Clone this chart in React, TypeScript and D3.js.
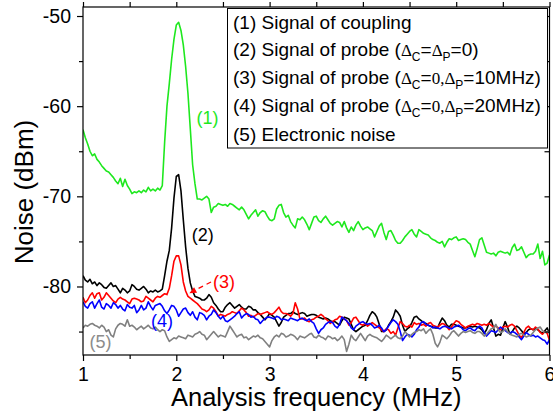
// noise spectra of coupling / probe beams, redrawn with d3
import React, { useRef, useEffect } from 'react';
import * as d3 from 'd3';

// frequency grid: 1 MHz to 6 MHz, one point every 0.025 MHz (201 points)
const fStart = 1;
const fStep = 0.025;

// (1) signal of coupling
const coupling = [
  -62.6, -63.5, -64.2, -65.0, -65.5, -65.3, -65.9, -66.2, -66.6, -66.9,
  -67.2, -67.3, -67.6, -67.9, -68.3, -68.6, -68.0, -68.9, -68.1, -68.8,
  -69.2, -69.7, -69.5, -69.6, -69.4, -69.6, -69.3, -69.5, -69.0, -69.4,
  -69.2, -69.4, -69.1, -69.3, -68.8, -64.0, -60.0, -57.5, -54.8, -52.6,
  -51.0, -50.7, -51.6, -53.2, -55.6, -58.6, -62.5, -66.5, -68.6, -70.3,
  -70.3, -70.4, -70.2, -70.0, -70.3, -71.8, -71.2, -71.1, -70.8, -70.9,
  -71.0, -70.9, -71.1, -70.8, -70.9, -71.1, -71.3, -71.5, -71.2, -71.5,
  -72.0, -72.5, -72.1, -71.8, -71.5, -72.2, -71.8, -71.6, -71.7, -72.2,
  -72.6, -72.7, -72.5, -71.4, -71.0, -70.9, -71.8, -72.3, -72.1, -72.8,
  -73.2, -73.5, -72.5, -72.6, -72.3, -72.6, -73.1, -73.7, -73.0, -72.3,
  -72.2, -72.7, -72.9, -72.5, -72.2, -72.6, -73.0, -73.2, -73.0, -72.8,
  -72.9, -73.4, -72.8, -73.5, -74.0, -73.4, -73.8, -73.2, -72.8, -73.3,
  -73.7, -73.5, -73.4, -73.6, -73.8, -74.5, -73.9, -73.3, -73.0, -74.0,
  -74.8, -73.9, -73.8, -74.3, -74.9, -75.2, -75.2, -74.9, -74.5, -74.2,
  -73.9, -73.7, -74.2, -74.5, -73.7, -73.9, -74.1, -74.2, -74.3, -74.6,
  -74.8, -74.9, -75.1, -75.2, -75.0, -75.6, -75.1, -74.7, -74.8, -74.6,
  -74.5, -74.9, -74.8, -74.7, -74.8, -75.1, -75.3, -76.0, -76.7, -75.8,
  -74.8, -74.6, -75.4, -76.2, -76.3, -76.4, -76.3, -76.6, -76.2, -76.1,
  -76.2, -76.3, -76.2, -76.5, -75.7, -75.3, -76.0, -75.9, -75.6, -76.2,
  -76.8, -76.5, -76.4, -76.4, -76.1, -75.3, -76.9, -76.1, -77.6, -77.4,
  -76.5,
];

// (2) probe, both detunings zero
const probeZero = [
  -78.8, -79.3, -79.5, -79.2, -79.7, -79.5, -79.9, -79.6, -79.8, -80.1,
  -80.2, -79.9, -79.6, -80.0, -79.9, -80.3, -80.7, -80.2, -80.4, -80.7,
  -80.5, -79.8, -80.0, -80.3, -80.4, -80.2, -80.0, -80.3, -80.7, -80.5,
  -80.6, -80.4, -80.6, -80.5, -80.3, -78.8, -77.2, -76.0, -73.5, -70.2,
  -67.8, -67.6, -69.4, -72.6, -75.6, -78.0, -79.6, -80.5, -81.1, -81.2,
  -81.3, -81.5, -81.5, -81.3, -80.9, -81.2, -81.8, -82.1, -82.5, -82.8,
  -82.8, -82.3, -82.0, -81.8, -82.1, -82.4, -82.2, -82.0, -82.3, -82.5,
  -82.5, -82.2, -82.3, -82.6, -82.6, -82.9, -83.1, -83.4, -83.7, -83.4,
  -83.0, -83.2, -83.4, -83.9, -84.4, -84.0, -83.4, -83.2, -83.0, -83.0,
  -82.8, -83.0, -83.1, -83.0, -82.9, -83.0, -83.3, -83.2, -83.1, -83.1,
  -83.2, -83.4, -83.5, -83.6, -83.5, -83.6, -83.8, -83.9, -83.9, -84.1,
  -84.3, -83.8, -83.4, -83.5, -83.6, -84.2, -84.8, -85.0, -84.8, -84.6,
  -84.4, -84.3, -83.8, -83.2, -82.8, -83.0, -83.4, -84.2, -85.0, -85.0,
  -84.8, -84.3, -83.9, -83.4, -82.6, -82.9, -83.3, -84.3, -85.0, -84.7,
  -84.5, -84.0, -83.4, -83.3, -83.6, -83.8, -84.0, -84.1, -84.3, -84.4,
  -84.5, -84.6, -84.6, -84.0, -83.5, -83.8, -84.3, -84.5, -84.2, -84.2,
  -84.3, -84.4, -84.5, -84.6, -84.6, -84.5, -84.4, -84.5, -84.4, -84.5,
  -84.6, -84.8, -85.2, -84.8, -84.1, -83.7, -84.6, -85.5, -85.3, -85.4,
  -84.6, -83.9, -84.5, -85.3, -85.0, -84.6, -84.4, -84.6, -84.9, -85.2,
  -85.1, -84.8, -84.7, -84.8, -84.7, -84.8, -85.0, -85.2, -84.9, -84.6,
  -85.2,
];

// (3) probe, delta_P = 10 MHz
const probe10 = [
  -81.2, -81.8, -81.5, -81.0, -80.7, -81.3, -80.8, -80.7, -81.5, -81.2,
  -80.7, -81.0, -81.3, -81.6, -81.8, -81.4, -81.2, -81.4, -81.5, -81.7,
  -81.9, -81.4, -81.3, -81.4, -81.5, -81.7, -81.6, -81.1, -81.3, -81.5,
  -81.7, -81.3, -81.1, -81.2, -81.0, -80.8, -80.9, -80.2, -78.8, -77.2,
  -76.6, -76.6, -77.6, -79.5, -80.5, -81.1, -81.3, -81.5, -81.7, -81.9,
  -82.2, -82.5, -82.6, -82.8, -82.6, -82.2, -82.4, -82.8, -83.3, -83.1,
  -83.2, -83.3, -83.1, -83.0, -82.8, -82.9, -83.0, -82.7, -82.4, -82.6,
  -82.9, -83.3, -83.2, -83.4, -83.2, -83.0, -83.1, -83.0, -82.9, -82.8,
  -83.0, -83.1, -82.9, -82.6, -82.3, -82.8, -83.0, -83.0, -83.1, -83.3,
  -83.0, -81.8, -82.5, -83.6, -83.6, -83.5, -83.8, -83.9, -83.7, -83.6,
  -83.4, -83.3, -83.1, -83.3, -83.6, -83.8, -84.1, -83.9, -83.7, -83.6,
  -83.3, -83.4, -83.6, -83.8, -84.3, -84.0, -83.5, -83.4, -83.8, -84.2,
  -84.3, -84.1, -84.4, -84.2, -84.0, -84.2, -84.4, -84.6, -84.8, -85.0,
  -84.7, -84.8, -85.2, -85.0, -85.4, -84.6, -83.9, -84.1, -84.4, -84.5,
  -84.3, -84.5, -84.0, -84.2, -84.1, -84.3, -84.2, -84.4, -84.1, -84.0,
  -84.3, -84.4, -84.5, -84.3, -84.1, -84.2, -84.5, -84.8, -84.5, -84.1,
  -83.8, -83.9, -84.2, -84.4, -84.6, -84.4, -84.3, -84.2, -84.3, -84.1,
  -84.2, -84.3, -84.2, -84.3, -84.1, -84.3, -84.5, -84.4, -84.6, -84.8,
  -84.5, -84.4, -84.5, -84.3, -84.2, -84.4, -84.9, -85.4, -85.7, -85.1,
  -84.6, -84.4, -84.7, -84.8, -84.5, -84.7, -85.1, -85.3, -85.0, -85.2,
  -86.0,
];

// (4) probe, delta_P = 20 MHz
const probe20 = [
  -81.7, -82.2, -82.4, -81.9, -81.7, -82.4, -81.9, -81.5, -82.3, -82.5,
  -81.9, -82.1, -82.4, -81.8, -82.0, -82.4, -82.1, -82.5, -82.7, -82.0,
  -82.3, -82.4, -82.1, -82.9, -82.6, -82.1, -82.6, -82.4, -81.7, -82.2,
  -82.6, -82.1, -82.0, -81.9, -82.2, -82.7, -83.0, -82.6, -82.1, -82.2,
  -82.6, -83.3, -82.9, -82.5, -82.4, -82.9, -83.2, -82.8, -83.4, -83.7,
  -82.9, -83.0, -83.2, -83.7, -83.3, -83.1, -82.6, -82.9, -83.3, -83.6,
  -83.3, -83.8, -83.9, -83.7, -83.5, -83.3, -83.0, -82.8, -83.5, -83.2,
  -83.0, -83.1, -83.4, -83.3, -83.6, -83.7, -84.1, -83.8, -83.6, -83.4,
  -83.4, -83.5, -83.6, -83.3, -83.4, -83.7, -83.6, -83.7, -83.8, -83.5,
  -83.6, -83.7, -83.8, -83.6, -83.5, -83.7, -83.8, -83.6, -83.9, -84.1,
  -84.7, -85.2, -84.8, -84.6, -84.2, -84.0, -83.9, -84.0, -84.4, -84.6,
  -84.2, -83.4, -83.6, -83.8, -84.1, -84.6, -84.8, -84.4, -84.2, -84.0,
  -83.9, -84.1, -84.2, -84.1, -84.3, -84.6, -84.5, -84.3, -84.6, -85.0,
  -84.8, -84.4, -84.0, -83.7, -83.9, -84.2, -85.0, -86.0, -85.6, -85.3,
  -85.4, -85.6, -85.3, -84.8, -84.5, -84.0, -83.9, -84.2, -84.3, -84.4,
  -84.6, -84.5, -84.6, -84.7, -84.5, -84.4, -84.5, -84.6, -84.7, -84.5,
  -84.4, -84.3, -84.5, -84.8, -84.9, -84.7, -84.6, -84.8, -84.9, -84.6,
  -84.4, -84.6, -85.1, -85.5, -85.2, -84.9, -85.0, -85.1, -84.8, -84.5,
  -84.7, -84.9, -85.1, -85.2, -85.0, -85.1, -85.3, -85.6, -85.9, -85.5,
  -85.1, -85.3, -85.5, -85.4, -85.6, -85.5, -85.7, -85.9, -86.0, -86.4,
  -85.9,
];

// (5) electronic noise floor
const electronic = [
  -84.6, -84.3, -84.4, -84.2, -84.1, -84.3, -84.4, -84.6, -84.3, -84.5,
  -85.0, -84.8, -85.4, -85.6, -84.7, -84.3, -84.1, -84.2, -84.4, -83.7,
  -84.4, -84.3, -84.5, -84.8, -84.6, -84.4, -84.7, -84.5, -84.3, -84.6,
  -84.7, -84.5, -84.8, -85.0, -84.8, -84.9, -85.6, -86.1, -85.9, -85.7,
  -85.8, -85.5, -85.6, -85.7, -85.8, -85.4, -85.5, -85.6, -85.3, -85.2,
  -85.0, -85.3, -85.4, -85.9, -85.6, -85.3, -85.0, -85.3, -85.6, -85.4,
  -85.5, -85.6, -85.0, -84.4, -84.8, -85.2, -85.6, -85.4, -85.3, -85.7,
  -85.6, -85.9, -85.7, -85.5, -85.6, -85.4, -85.7, -85.8, -86.1, -86.4,
  -86.7, -86.0, -85.6, -85.4, -85.6, -85.2, -85.3, -85.6, -85.5, -85.3,
  -85.4, -85.6, -85.9, -85.5, -85.6, -85.7, -85.5, -85.3, -85.2, -85.6,
  -85.7, -85.4, -85.6, -85.7, -85.9, -85.5, -85.6, -85.8, -85.7, -86.0,
  -85.8, -85.5, -85.9, -87.2, -86.4, -85.4, -85.8, -86.0, -85.6, -85.2,
  -85.6, -86.0, -85.5, -85.3, -85.5, -85.6, -85.7, -85.9, -86.1, -85.8,
  -85.4, -85.6, -85.8, -85.6, -85.4, -85.7, -85.8, -85.5, -85.0, -85.3,
  -85.6, -85.3, -85.1, -85.0, -84.8, -84.9, -84.7, -85.2, -84.9, -84.7,
  -85.3, -86.3, -86.7, -86.2, -85.4, -85.6, -85.8, -85.5, -85.1, -84.9,
  -85.2, -85.5, -85.2, -85.0, -85.1, -85.0, -84.9, -85.1, -85.2, -85.0,
  -85.0, -85.2, -85.5, -85.3, -85.0, -84.7, -84.6, -84.2, -84.8, -85.1,
  -85.0, -84.7, -85.0, -85.3, -85.4, -85.5, -85.6, -85.3, -85.2, -85.4,
  -85.6, -85.5, -85.4, -85.1, -84.8, -84.6, -84.5, -84.9, -85.1, -85.0,
  -85.0,
];

const seriesTags = ['(1)', '(2)', '(3)', '(4)', '(5)'];

const xTicks = [1, 2, 3, 4, 5, 6];
const xMinor = [1.5, 2.5, 3.5, 4.5, 5.5];
const yTicks = [-50, -60, -70, -80];
const yMinor = [-55, -65, -75, -85];

// legend rows: [text, kind]  n = normal, g = greek/serif, s = subscript
const legendRows: [string, string][][] = [
  [['(1) Signal of coupling', 'n']],
  [['(2) Signal of probe (', 'n'], ['Δ', 'g'], ['C', 's'], ['=', 'n'], ['Δ', 'g'], ['P', 's'], ['=0)', 'n']],
  [['(3) Signal of probe (', 'n'], ['Δ', 'g'], ['C', 's'], ['=', 'n'], ['0,', 'g'], ['Δ', 'g'], ['P', 's'], ['=10MHz)', 'n']],
  [['(4) Signal of probe (', 'n'], ['Δ', 'g'], ['C', 's'], ['=', 'n'], ['0,', 'g'], ['Δ', 'g'], ['P', 's'], ['=20MHz)', 'n']],
  [['(5) Electronic noise', 'n']],
];

const xTitle = 'Analysis frequency (MHz)';
const yTitle = 'Noise (dBm)';

const W = 553;
const H = 415;
const SANS = 'Liberation Sans, Arial, Helvetica, sans-serif';
const SERIF = 'Liberation Serif, Times New Roman, serif';

export default function App() {
  const ref = useRef<SVGSVGElement>(null);

  useEffect(() => {
    const svg = d3.select(ref.current);
    svg.selectAll('*').remove();

    const left = 83, right = 549.5, top = 7, bottom = 355;
    const x = d3.scaleLinear().domain([1, 6]).range([left, right]);
    const y = d3.scaleLinear().domain([-87.6, -49]).range([bottom, top]);

    // drawn in the original order, so the later ones sit on top
    const series = [coupling, probeZero, probe10, probe20, electronic];
    const colors = ['#1ee81e', '#000000', '#ff0000', '#0000ff', '#808080'];
    const tagColors = ['#1ee81e', '#000000', '#ff0000', '#0000ff', '#8c8c8c'];

    svg.append('defs').append('clipPath').attr('id', 'plotclip')
      .append('rect')
      .attr('x', left).attr('y', top)
      .attr('width', right - left).attr('height', bottom - top);

    const line = d3.line<number>()
      .x((d, i) => x(fStart + i * fStep))
      .y(d => y(d));

    const curves = svg.append('g').attr('clip-path', 'url(#plotclip)');
    series.forEach((s, k) => {
      curves.append('path')
        .datum(s)
        .attr('d', line)
        .attr('fill', 'none')
        .attr('stroke', colors[k])
        .attr('stroke-width', 1.6)
        .attr('stroke-linejoin', 'round');
    });

    // axes ------------------------------------------------------------
    const styleAxis = (g: any) => {
      g.select('.domain').remove();
      g.selectAll('line').attr('stroke', '#000').attr('stroke-width', 1.2);
      g.selectAll('text').attr('font-family', SANS).attr('font-size', 19.5).attr('fill', '#000');
    };

    svg.append('g').attr('transform', `translate(0,${bottom})`)
      .call(d3.axisBottom(x).tickValues(xTicks).tickSize(6).tickPadding(6).tickFormat(d => String(d)))
      .call(styleAxis);
    svg.append('g').attr('transform', `translate(0,${bottom})`)
      .call(d3.axisBottom(x).tickValues(xMinor).tickSize(4).tickFormat(() => ''))
      .call(styleAxis);

    svg.append('g').attr('transform', `translate(${left},0)`)
      .call(d3.axisLeft(y).tickValues(yTicks).tickSize(6).tickPadding(6).tickFormat(d => String(d)))
      .call(styleAxis);
    svg.append('g').attr('transform', `translate(${left},0)`)
      .call(d3.axisLeft(y).tickValues(yMinor).tickSize(4).tickFormat(() => ''))
      .call(styleAxis);

    // mirrored axes: top ticks out, right ticks in
    svg.append('g').attr('transform', `translate(0,${top})`)
      .call(d3.axisTop(x).tickValues([...xTicks, ...xMinor]).tickSize(5).tickFormat(() => ''))
      .call(styleAxis);
    svg.append('g').attr('transform', `translate(${right},0)`)
      .call(d3.axisLeft(y).tickValues([...yTicks, ...yMinor]).tickSize(5).tickFormat(() => ''))
      .call(styleAxis);

    svg.append('rect')
      .attr('x', left).attr('y', top)
      .attr('width', right - left).attr('height', bottom - top)
      .attr('fill', 'none').attr('stroke', '#000').attr('stroke-width', 1.2);

    // axis titles
    svg.append('text')
      .attr('x', (left + right) / 2).attr('y', 406)
      .attr('text-anchor', 'middle')
      .attr('font-family', SANS).attr('font-size', 25.5)
      .text(xTitle);
    svg.append('text')
      .attr('transform', `translate(33,${(top + bottom) / 2 + 11}) rotate(-90)`)
      .attr('text-anchor', 'middle')
      .attr('font-family', SANS).attr('font-size', 26)
      .text(yTitle);

    // curve tags next to each trace (data coords)
    const tagSpots: [number, number][] = [[2.217, -61.97], [2.165, -75.0], [2.393, -80.15], [1.729, -84.48], [1.07, -86.86]];
    tagSpots.forEach(([f, v], k) => {
      svg.append('text')
        .attr('x', x(f)).attr('y', y(v))
        .attr('font-family', SANS).attr('font-size', 18)
        .attr('fill', tagColors[k])
        .text(seriesTags[k]);
    });

    // dashed red arrow pointing at the (3) peak
    const a0 = [x(2.372), y(-79.5)];
    const a1 = [x(2.14), y(-80.75)];
    svg.append('line')
      .attr('x1', a0[0]).attr('y1', a0[1]).attr('x2', a1[0] + 5).attr('y2', a1[1] - 2.7)
      .attr('stroke', '#ff0000').attr('stroke-width', 1.3).attr('stroke-dasharray', '5,4');
    const ang = Math.atan2(a1[1] - a0[1], a1[0] - a0[0]);
    const hl = 7, hw = 3.2;
    const head = [
      [a1[0], a1[1]],
      [a1[0] - hl * Math.cos(ang) + hw * Math.sin(ang), a1[1] - hl * Math.sin(ang) - hw * Math.cos(ang)],
      [a1[0] - hl * Math.cos(ang) - hw * Math.sin(ang), a1[1] - hl * Math.sin(ang) + hw * Math.cos(ang)],
    ];
    svg.append('polygon').attr('points', head.map(p => p.join(',')).join(' ')).attr('fill', '#ff0000');

    // legend box
    svg.append('rect')
      .attr('x', 227.5).attr('y', 8.5).attr('width', 320).attr('height', 139.5)
      .attr('fill', '#fff').attr('stroke', '#000').attr('stroke-width', 1);
    const rowBase = [28.5, 55.5, 83.5, 112, 141];
    legendRows.forEach((row, r) => {
      const t = svg.append('text')
        .attr('x', 233).attr('y', rowBase[r])
        .attr('font-family', SANS).attr('font-size', 19).attr('fill', '#000');
      let shifted = false;
      row.forEach(([txt, kind]) => {
        const sp = t.append('tspan').text(txt);
        if (kind === 's') {
          sp.attr('font-size', 12).attr('dy', 5);
          shifted = true;
        } else {
          if (shifted) { sp.attr('dy', -5); shifted = false; }
          if (kind === 'g') sp.attr('font-family', SERIF).attr('font-size', 17);
        }
      });
    });
  }, []);

  return (
    <svg ref={ref} width={W} height={H}
      style={{ position: 'absolute', left: 0, top: 0, background: '#fff' }} />
  );
}
